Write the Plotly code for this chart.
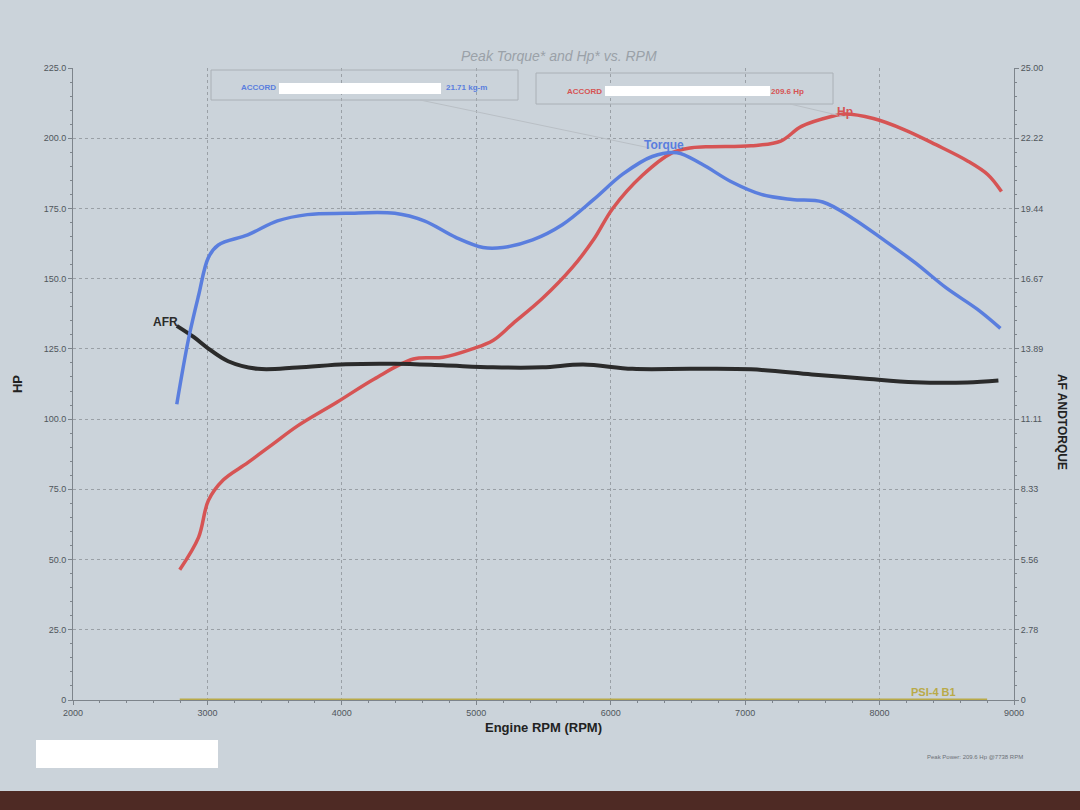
import plotly.graph_objects as go

# ---------------- data ----------------
hp_rpm = [2794, 2934, 3007, 3117, 3300, 3484, 3668, 3963, 4241, 4532, 4752, 4971, 5124, 5272,
          5493, 5715, 5874, 6015, 6236, 6456, 6603, 6750, 7044, 7265, 7419, 7648, 7738, 7954,
          8186, 8419, 8651, 8806, 8907]
hp_val = [46.4, 57.9, 71.0, 78.3, 84.5, 91.0, 97.5, 106.0, 114.3, 121.4, 122.0, 125.0, 128.0, 134.0,
          143.0, 154.0, 164.0, 175.0, 186.8, 194.8, 196.6, 197.0, 197.3, 199.0, 204.2, 207.8, 208.6, 207.0,
          203.0, 197.7, 192.0, 187.0, 181.0]

tq_rpm = [2772, 2860, 2934, 3007, 3081, 3300, 3521, 3743, 4029, 4394, 4613, 4847, 5051, 5197,
          5419, 5640, 5874, 6089, 6309, 6493, 6677, 6897, 7120, 7349, 7577, 7801, 8031, 8264,
          8496, 8729, 8899]
tq_val = [11.7, 14.3, 16.0, 17.5, 18.0, 18.4, 18.95, 19.2, 19.25, 19.25, 18.95, 18.3, 17.9, 17.9,
          18.2, 18.8, 19.8, 20.8, 21.5, 21.65, 21.2, 20.5, 20.0, 19.8, 19.7, 19.05, 18.2, 17.3,
          16.3, 15.45, 14.7]

afr_rpm = [2772, 2897, 3007, 3154, 3374, 3668, 4029, 4394, 4752, 5124, 5493, 5794, 6162, 6603,
           7044, 7496, 7877, 8264, 8651, 8884]
afr_val = [14.8, 14.36, 13.9, 13.4, 13.1, 13.15, 13.28, 13.3, 13.24, 13.16, 13.16, 13.27, 13.1, 13.1,
           13.08, 12.88, 12.72, 12.57, 12.56, 12.64]

psi_rpm = [2794, 5000, 7000, 8800]
psi_val = [0.0, 0.0, 0.0, 0.0]

x_ticks = [2000, 3000, 4000, 5000, 6000, 7000, 8000, 9000]
left_ticks = [0, 25, 50, 75, 100, 125, 150, 175, 200, 225]
left_labels = ["0", "25.0", "50.0", "75.0", "100.0", "125.0", "150.0", "175.0", "200.0", "225.0"]
right_ticks = [0, 25/9, 50/9, 75/9, 100/9, 125/9, 150/9, 175/9, 200/9, 25]
right_labels = ["0", "2.78", "5.56", "8.33", "11.11", "13.89", "16.67", "19.44", "22.22", "25.00"]

peak_tq_text = "21.71 kg-m"
peak_hp_text = "209.6 Hp"
peak_note = "Peak Power: 209.6 Hp @7738 RPM"

# ---------------- styling ----------------
BG = "#cbd3da"
BLUE = "#5a7ede"
RED = "#d65454"
BLACK = "#2b2b2b"
OLIVE = "#b9aa48"
GRID = "#9aa0a6"
FONT = "Liberation Sans"

fig = go.Figure()
fig.add_trace(go.Scatter(x=psi_rpm, y=psi_val, mode="lines", line=dict(color=OLIVE, width=3),
                         yaxis="y", name="PSI-4 B1", hoverinfo="skip"))
fig.add_trace(go.Scatter(x=afr_rpm, y=afr_val, mode="lines", line=dict(color=BLACK, width=4, shape="spline"),
                         yaxis="y2", name="AFR"))
fig.add_trace(go.Scatter(x=hp_rpm, y=hp_val, mode="lines", line=dict(color=RED, width=3.5, shape="spline"),
                         yaxis="y", name="Hp"))
fig.add_trace(go.Scatter(x=tq_rpm, y=tq_val, mode="lines", line=dict(color=BLUE, width=3.5, shape="spline"),
                         yaxis="y2", name="Torque"))

axis_common = dict(showline=True, linecolor="#7d848b", linewidth=1, ticks="outside", ticklen=4,
                   tickcolor="#7d848b", zeroline=False,
                   tickfont=dict(family=FONT, size=9, color="#50565c"))

fig.update_layout(
    width=1080, height=810,
    paper_bgcolor=BG, plot_bgcolor=BG,
    margin=dict(l=73, r=66, t=68, b=110),
    showlegend=False,
    font=dict(family=FONT),
    xaxis=dict(range=[2000, 9000], tickvals=x_ticks, ticktext=[str(v) for v in x_ticks],
               showgrid=True, gridcolor=GRID, griddash="dot", gridwidth=1,
               minor=dict(ticks="outside", ticklen=2, tickcolor="#7d848b", dtick=200),
               title=dict(text="<b>Engine RPM (RPM)</b>", font=dict(family=FONT, size=13, color="#222"),
                          standoff=6),
               **axis_common),
    yaxis=dict(range=[0, 225], tickvals=left_ticks, ticktext=left_labels,
               showgrid=True, gridcolor=GRID, griddash="dot", gridwidth=1,
               minor=dict(ticks="outside", ticklen=2, tickcolor="#7d848b", dtick=5),
               title=dict(text="<b>HP</b>", font=dict(family=FONT, size=13, color="#222"), standoff=18),
               **axis_common),
    yaxis2=dict(range=[0, 25], overlaying="y", side="right", tickvals=right_ticks, ticktext=right_labels,
                showgrid=False,
                minor=dict(ticks="outside", ticklen=2, tickcolor="#7d848b", dtick=25/45),
                **axis_common),
)

# title
fig.add_annotation(text="<i>Peak Torque* and Hp* vs. RPM</i>", xref="paper", yref="paper",
                   x=0.516, y=1.0, xanchor="center", yanchor="bottom", yshift=2, showarrow=False,
                   font=dict(family=FONT, size=14, color="#9aa1a8"))
# right axis title (rotated)
fig.add_annotation(text="<b>AF ANDTORQUE</b>", xref="paper", yref="paper", x=1.051, y=0.44,
                   xanchor="center", yanchor="middle",
                   textangle=90, showarrow=False, font=dict(family=FONT, size=12, color="#222"))

# legend boxes
def px_x(px):
    return (px - 73) / 941

def px_y(py):
    return (700 - py) / 632

fig.add_shape(type="rect", xref="paper", yref="paper", x0=px_x(211), x1=px_x(518), y0=px_y(100), y1=px_y(70),
              line=dict(color="#aab0b6", width=1), fillcolor="rgba(0,0,0,0)")
fig.add_shape(type="rect", xref="paper", yref="paper", x0=px_x(536), x1=px_x(833), y0=px_y(104), y1=px_y(73),
              line=dict(color="#aab0b6", width=1), fillcolor="rgba(0,0,0,0)")
fig.add_shape(type="rect", xref="paper", yref="paper", x0=px_x(279), x1=px_x(441), y0=px_y(94), y1=px_y(83),
              line=dict(width=0), fillcolor="white")
fig.add_shape(type="rect", xref="paper", yref="paper", x0=px_x(605), x1=px_x(770), y0=px_y(96), y1=px_y(86),
              line=dict(width=0), fillcolor="white")
# faint connector lines
fig.add_shape(type="line", xref="paper", yref="paper", x0=px_x(420), x1=px_x(650), y0=px_y(100), y1=px_y(148),
              line=dict(color="#b9bfc5", width=1))
fig.add_shape(type="line", xref="paper", yref="paper", x0=px_x(790), x1=px_x(850), y0=px_y(104), y1=px_y(118),
              line=dict(color="#b9bfc5", width=1))

for txt, px, py, col in [("<b>ACCORD</b>", 258, 88, BLUE), ("<b>" + peak_tq_text + "</b>", 466, 88, BLUE),
                         ("<b>ACCORD</b>", 584, 92, RED), ("<b>" + peak_hp_text + "</b>", 787, 92, RED)]:
    fig.add_annotation(text=txt, xref="paper", yref="paper", x=px_x(px), y=px_y(py), showarrow=False,
                       xanchor="center", yanchor="middle",
                       font=dict(family=FONT, size=8, color=col))

# curve labels
fig.add_annotation(text="<b>Torque</b>", x=6400, y=21.95, yref="y2", showarrow=False,
                   xanchor="center", yanchor="middle",
                   font=dict(family=FONT, size=12, color=BLUE))
fig.add_annotation(text="<b>Hp</b>", x=7740, y=209.5, yref="y", showarrow=False,
                   xanchor="center", yanchor="middle",
                   font=dict(family=FONT, size=12, color=RED))
fig.add_annotation(text="<b>AFR</b>", x=2690, y=14.95, yref="y2", showarrow=False,
                   xanchor="center", yanchor="middle",
                   font=dict(family=FONT, size=12, color=BLACK))
fig.add_annotation(text="<b>PSI-4 B1</b>", x=8400, y=2.8, yref="y", showarrow=False,
                   xanchor="center", yanchor="middle",
                   font=dict(family=FONT, size=11, color=OLIVE))

# bottom-left redaction block, footer note, table edge
fig.add_shape(type="rect", xref="paper", yref="paper", x0=px_x(36), x1=px_x(218), y0=px_y(768), y1=px_y(740),
              line=dict(width=0), fillcolor="white")
fig.add_annotation(text=peak_note, xref="paper", yref="paper", x=px_x(975), y=px_y(757), showarrow=False,
                   xanchor="center", yanchor="middle",
                   font=dict(family=FONT, size=6, color="#6b7177"))
fig.add_shape(type="rect", xref="paper", yref="paper", x0=px_x(0), x1=px_x(1080), y0=px_y(812), y1=px_y(791),
              line=dict(width=0), fillcolor="#4e2a24")

fig.write_html("out.html", config={"displayModeBar": False},
               post_script="document.body.style.margin='0';document.body.style.overflow='hidden';")
